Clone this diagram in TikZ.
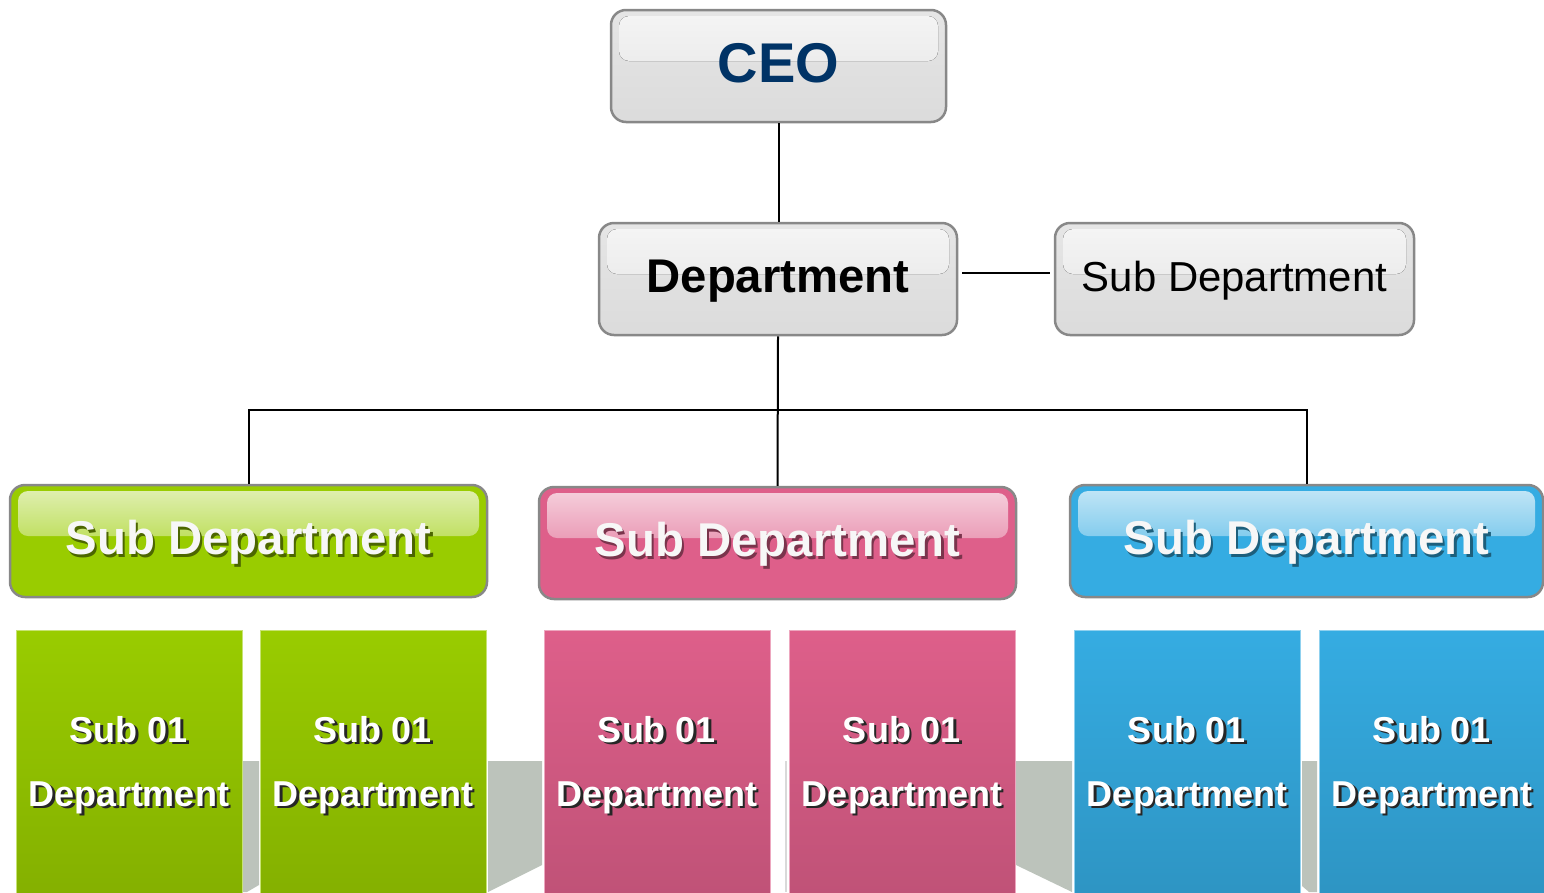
\documentclass[tikz,border=0pt]{standalone}
\usepackage{fontspec}
\setmainfont{Liberation Sans}
\usetikzlibrary{math}

\definecolor{boxline}{HTML}{888888}
\definecolor{ceoblue}{HTML}{003366}
\definecolor{leaf}{HTML}{99CC00}
\definecolor{rose}{HTML}{DE5F8A}
\definecolor{sky}{HTML}{35ACE2}
\definecolor{fold}{HTML}{BCC3BB}

\newcommand\sdtext[2]{\makebox[0pt][l]{\hspace*{2.5pt}\raisebox{-2.5pt}{\color{#1}#2}}#2}

\begin{document}
\begin{tikzpicture}[x=1pt, y=-1pt,
  link/.style={draw, line width=2pt},
  gloss/.style 2 args={path picture={\fill[rounded corners=10pt, top color=#1, bottom color=#2]
    ([xshift=8pt,yshift=-6pt]path picture bounding box.north west) rectangle
    ([xshift=-8pt,yshift=5pt]path picture bounding box.east);}},
  topbox/.style={draw=boxline, line width=2.5pt, rounded corners=15pt, top color=white!90!black,
    bottom color=white!86!black, gloss={white!96!black}{white!89!black}, minimum height=112pt,
    inner sep=0pt},
  colbox/.style={draw=boxline, line width=2.5pt, rounded corners=15pt, fill=#1,
    gloss={white!72!#1}{#1}, minimum width=477pt, minimum height=112pt, inner sep=0pt,
    text=white!97!black, font=\fontsize{47.4}{50}\selectfont\bfseries,
    text height=34pt, text depth=7pt},
  panel/.style={draw=white!45!#1, line width=1pt, top color=#1, bottom color=#1!86!black,
    minimum width=226pt, minimum height=272pt, inner sep=0pt, align=center, text=white,
    font=\fontsize{36}{64}\selectfont\bfseries}
]
  \tikzmath{\fy = 761;}
  \tikzmath{\fb = 892;}

  \useasboundingbox (0,0) rectangle (1544,892);

  % folds behind the bottom row
  \fill[fold] (242,\fy) -- (259,\fy) -- (259,885) -- (247,\fb) -- (242,\fb) -- cycle;
  \fill[fold] (488,\fy) -- (542,\fy) -- (542,865) -- (488,\fb) -- cycle;
  \draw[white!85!black, line width=1.5pt] (786,\fy) -- (786,\fb);
  \fill[fold] (1016,\fy) -- (1072,\fy) -- (1072,\fb) -- (1016,865) -- cycle;
  \fill[fold] (1302,\fy) -- (1317,\fy) -- (1317,\fb) -- (1309,\fb) -- (1302,886) -- cycle;

  \node[topbox, minimum width=335pt, text=ceoblue, font=\fontsize{56}{60}\selectfont\bfseries,
    text height=40pt, text depth=8pt] (ceo) at (778.5,66) {CEO};
  \node[topbox, minimum width=358pt, font=\fontsize{47.3}{50}\selectfont\bfseries,
    text height=34pt, text depth=7pt] (dept) at (778,279) {Department};
  \node[topbox, minimum width=359pt, font=\fontsize{41.9}{45}\selectfont,
    text height=30pt, text depth=6pt] (subr) at (1234.5,279) {Sub Department};

  \node[colbox=leaf] (green) at (248.5,541) {\sdtext{leaf!50!black}{Sub Department}};
  \node[colbox=rose] (pink) at (777.5,543) {\sdtext{rose!55!black}{Sub Department}};
  \node[colbox=sky, minimum width=473pt] (blue) at (1306.5,541) {\sdtext{sky!55!black}{Sub Department}};

  \node[panel=leaf] (green1) at (129,766) {\sdtext{black!85}{Sub 01}\\\sdtext{black!85}{Department}};
  \node[panel=leaf] (green2) at (373,766) {\sdtext{black!85}{Sub 01}\\\sdtext{black!85}{Department}};
  \node[panel=rose] (pink1) at (657,766) {\sdtext{black!85}{Sub 01}\\\sdtext{black!85}{Department}};
  \node[panel=rose] (pink2) at (902,766) {\sdtext{black!85}{Sub 01}\\\sdtext{black!85}{Department}};
  \node[panel=sky] (blue1) at (1187,766) {\sdtext{black!85}{Sub 01}\\\sdtext{black!85}{Department}};
  \node[panel=sky] (blue2) at (1432,766) {\sdtext{black!85}{Sub 01}\\\sdtext{black!85}{Department}};

  \coordinate (hub) at (778,410);
  \draw[link] (ceo.south) -- (ceo.south |- dept.north);
  \draw[link, shorten <=4pt, shorten >=4pt] ([yshift=6pt]dept.east) -- ([yshift=6pt]subr.west);
  \draw[link] (dept.south) -- (pink.north);
  \draw[link] (green.north) |- (hub) -| (blue.north);
\end{tikzpicture}
\end{document}
